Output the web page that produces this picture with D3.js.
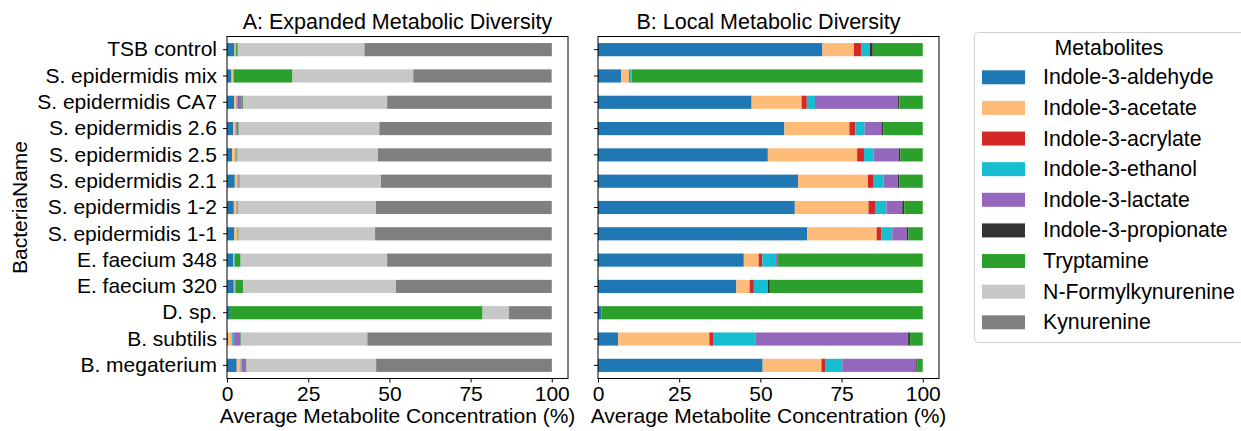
<!DOCTYPE html>
<html><head><meta charset="utf-8">
<script src="https://cdn.jsdelivr.net/npm/d3@7"></script>
<style>body{margin:0;background:#fff;} svg{display:block;font-family:"Liberation Sans",Arial,sans-serif;}</style>
</head><body>
<svg id="c" width="1241" height="431"></svg>
<script>
const categories = ["TSB control","S. epidermidis mix","S. epidermidis CA7","S. epidermidis 2.6","S. epidermidis 2.5","S. epidermidis 2.1","S. epidermidis 1-2","S. epidermidis 1-1","E. faecium 348","E. faecium 320","D. sp.","B. subtilis","B. megaterium"];
const metabolites = ["Indole-3-aldehyde","Indole-3-acetate","Indole-3-acrylate","Indole-3-ethanol","Indole-3-lactate","Indole-3-propionate","Tryptamine","N-Formylkynurenine","Kynurenine"];
const colors = ["#1f77b4","#ffbb78","#d62728","#17becf","#9467bd","#333333","#2ca02c","#c7c7c7","#7f7f7f"];
const xTicks = [0,25,50,75,100];

// Panel A: expanded metabolic diversity (%), per metabolite, in category order
const A_aldehyde   = [2.3,1.4,2.2,1.9,1.6,2.4,2.1,2.3,1.9,2.1,0.9,0.3,3.0];
const A_acetate    = [0.3,0.5,0.7,0.7,0.9,0.85,0.8,0.78,0.2,0.2,0.0,1.2,1.1];
const A_acrylate   = [0.1,0.06,0.1,0.1,0.07,0.07,0.08,0.05,0.05,0.07,0.0,0.06,0.1];
const A_ethanol    = [0.1,0.1,0.15,0.15,0.1,0.12,0.12,0.12,0.17,0.2,0.0,0.56,0.3];
const A_lactate    = [0.0,0.0,1.3,0.2,0.25,0.17,0.17,0.16,0.02,0.0,0.0,2.0,1.4];
const A_propionate = [0.03,0.0,0.05,0.05,0.02,0.02,0.02,0.02,0.0,0.03,0.0,0.03,0.03];
const A_tryptamine = [0.5,18.1,0.4,0.5,0.3,0.27,0.2,0.16,1.86,2.4,77.8,0.17,0.1];
const A_nfk        = [39.0,37.2,44.4,43.3,43.2,43.5,42.4,42.0,45.1,47.0,8.1,38.9,39.9];
const A_kyn        = [57.7,42.6,50.7,53.1,53.5,52.6,54.1,54.4,50.7,48.0,13.2,56.8,54.1];

// Panel B: local metabolic diversity (%)
const B_aldehyde   = [69.1,7.1,47.3,57.4,52.3,61.6,60.6,64.4,44.9,42.6,1.1,6.2,50.7];
const B_acetate    = [9.7,2.5,15.4,20.0,27.5,21.5,22.7,21.4,4.6,4.1,0.0,28.1,18.1];
const B_acrylate   = [2.2,0.3,1.6,1.8,2.1,1.8,2.2,1.5,1.1,1.3,0.0,1.3,1.3];
const B_ethanol    = [2.7,0.5,2.5,2.9,3.0,3.0,3.3,3.3,4.2,4.3,0.0,13.0,5.1];
const B_lactate    = [0.0,0.0,25.6,5.2,7.7,4.4,4.9,4.5,0.4,0.0,0.0,46.9,22.8];
const B_propionate = [0.9,0.0,0.4,0.6,0.5,0.5,0.6,0.5,0.0,0.6,0.0,0.6,0.4];
const B_tryptamine = [15.4,89.6,7.2,12.1,6.9,7.2,5.7,4.4,44.8,47.1,98.9,3.9,1.6];

const seriesA = [A_aldehyde,A_acetate,A_acrylate,A_ethanol,A_lactate,A_propionate,A_tryptamine,A_nfk,A_kyn];
const seriesB = [B_aldehyde,B_acetate,B_acrylate,B_ethanol,B_lactate,B_propionate,B_tryptamine];

const svg = d3.select("#c");
const FS = 21;
const FT = 21.5;
const FL = 21.3;
const plotTop = 36.5, plotBottom = 378.5;
const color = d3.scaleOrdinal().domain(metabolites).range(colors);
const y = d3.scaleBand().domain(categories).range([plotTop,plotBottom]).paddingInner(0.5).paddingOuter(0.25);

function panel(x0, x1, series, title, showLabels){
  const keys = metabolites.slice(0, series.length);
  const rows = categories.map((c,i)=>{const o={cat:c}; keys.forEach((k,j)=>o[k]=series[j][i]); return o;});
  const stacked = d3.stack().keys(keys)(rows);
  const x = d3.scaleLinear().domain([0,105]).range([x0,x1]);
  const g = svg.append("g");
  g.selectAll("g.s").data(stacked).join("g").attr("fill",d=>color(d.key))
    .selectAll("rect").data(d=>d).join("rect")
    .attr("x",d=>x(d[0])).attr("width",d=>Math.max(0,x(d[1])-x(d[0])))
    .attr("y",d=>y(d.data.cat)).attr("height",y.bandwidth());
  g.append("rect").attr("x",x0).attr("y",plotTop).attr("width",x1-x0).attr("height",plotBottom-plotTop)
    .attr("fill","none").attr("stroke","#000").attr("stroke-width",1);
  const ya = d3.axisLeft(y).tickSize(4).tickPadding(6);
  if(!showLabels) ya.tickFormat("");
  const yg = g.append("g").attr("transform",`translate(${x0},0)`).call(ya);
  yg.select(".domain").remove();
  yg.selectAll("text").attr("font-size",FS).attr("fill","#000").attr("font-family",null);
  const xa = d3.axisBottom(x).tickValues(xTicks).tickSize(4).tickPadding(4);
  const xg = g.append("g").attr("transform",`translate(0,${plotBottom})`).call(xa);
  xg.select(".domain").remove();
  xg.selectAll("text").attr("font-size",FS).attr("fill","#000").attr("font-family",null);
  g.append("text").attr("x",(x0+x1)/2).attr("y",29).attr("text-anchor","middle").attr("font-size",FT).text(title);
  g.append("text").attr("x",(x0+x1)/2).attr("y",423).attr("text-anchor","middle").attr("font-size",FS).text("Average Metabolite Concentration (%)");
}
panel(227,568,seriesA,"A: Expanded Metabolic Diversity",true);
panel(598,939,seriesB,"B: Local Metabolic Diversity",false);

svg.append("text").attr("transform",`translate(27,${(plotTop+plotBottom)/2}) rotate(-90)`)
  .attr("text-anchor","middle").attr("font-size",FS).text("BacteriaName");

const lg = svg.append("g");
lg.append("rect").attr("x",974.5).attr("y",32.5).attr("width",300).attr("height",310).attr("rx",4)
  .attr("fill","#fff").attr("stroke","#d0d0d0");
lg.append("text").attr("x",1109).attr("y",55).attr("text-anchor","middle").attr("font-size",FL).text("Metabolites");
const ly = d3.scalePoint().domain(metabolites).range([77.3,322.3]);
const li = lg.selectAll("g.it").data(metabolites).join("g").attr("transform",d=>`translate(0,${ly(d)})`);
li.append("rect").attr("x",982).attr("y",-7).attr("width",43).attr("height",14).attr("fill",d=>color(d));
li.append("text").attr("x",1043).attr("y",7).attr("font-size",FL).text(d=>d);
</script>
</body></html>
